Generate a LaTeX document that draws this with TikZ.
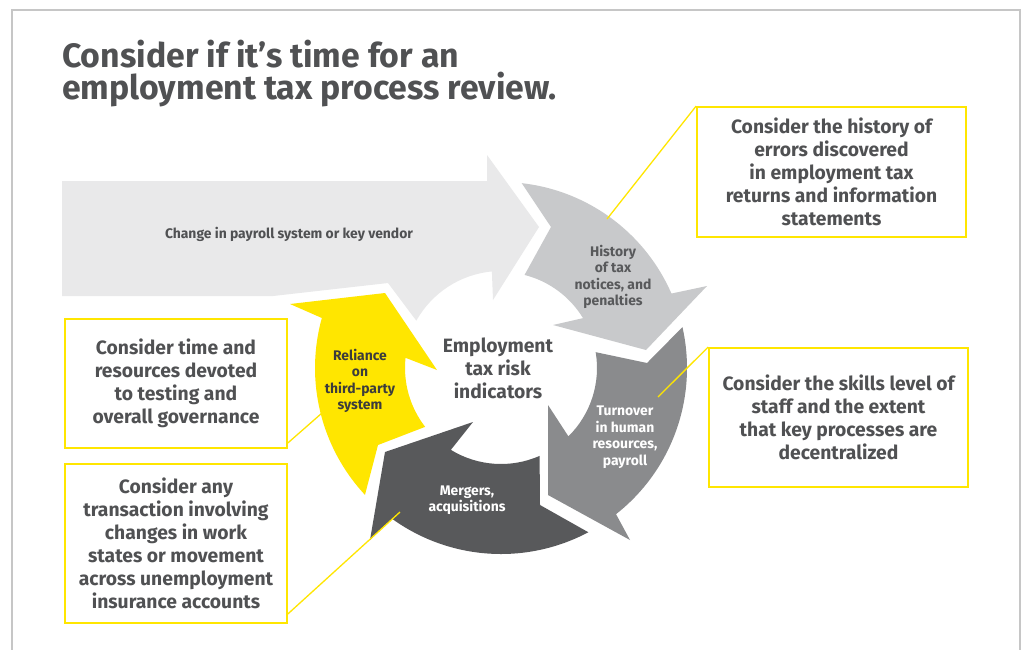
\documentclass[tikz,border=0pt]{standalone}
\usepackage{fontspec}
\setmainfont{Fira Sans}
\usetikzlibrary{calc}
\definecolor{ylw}{HTML}{FFE600}
\definecolor{bigarr}{HTML}{E9E9EA}
\definecolor{lgray}{HTML}{C8C9CB}
\definecolor{mgray}{HTML}{8A8B8D}
\definecolor{dgray}{HTML}{58595B}
\definecolor{txt}{HTML}{505153}
\definecolor{framec}{HTML}{C6C6C6}
\definecolor{reltxt}{HTML}{3C3C3C}
\tikzset{
  callout/.style={draw=ylw, line width=1.8pt, fill=white, align=center, text=txt,
    font=\fontsize{19.3}{23}\selectfont\bfseries, inner sep=0pt},
  leader/.style={draw=ylw, line width=1.3pt},
  lbl/.style={align=center, inner sep=0pt, font=\fontsize{13.9}{16.5}\selectfont\bfseries},
  titletxt/.style={inner sep=0pt, text=txt, font=\fontsize{33.8}{31}\selectfont\bfseries},
}
\begin{document}
\begin{tikzpicture}[x=1pt,y=-1pt]
\useasboundingbox (0,0) rectangle (1024,649);
\fill[white] (0,0) rectangle (1024,649);
\draw[framec, line width=2pt] (12,660) -- (12,10) -- (1020,10) -- (1020,660);

% title
\node[titletxt, anchor=base west] (t1) at (62,67) {Consider if it’s time for an};
\node[titletxt, anchor=base west] (t2) at (62,99) {employment tax process review.};

\coordinate (C) at (501,368);

% big arrow
\fill[bigarr] (62,181) -- (487,181) -- (487,155) -- (539,227) -- (493,300)
  -- ($(C)+(-95.4:97)$) arc[start angle=-95.4, end angle=-150.8, radius=97]
  -- (388,283) -- (273,296) -- (62,296) -- cycle;

% light gray: history
\fill[lgray] ($(C)+(-83.6:186)$) arc[start angle=-83.6, end angle=-23.6, radius=186]
  -- (707,286) -- (646,350) -- (553,325)
  -- ($(C)+(-31.3:96)$) arc[start angle=-31.3, end angle=-75.8, radius=96]
  -- (551,227) -- cycle;

% medium gray: turnover
\fill[mgray] ($(C)+(-12.7:186)$) arc[start angle=-12.7, end angle=51.8, radius=186]
  -- (630,540) -- (548,495) -- (548,405)
  -- ($(C)+(45.4:96)$) arc[start angle=45.4, end angle=-9.5, radius=96]
  -- (647,363) -- cycle;

% dark gray: mergers
\fill[dgray] ($(C)+(62:186)$) arc[start angle=62, end angle=125.9, radius=186]
  -- (370,540) -- (385,452) -- (473,422)
  -- ($(C)+(121.5:96)$) arc[start angle=121.5, end angle=66.3, radius=96]
  -- (540,505) -- cycle;

% yellow: reliance
\fill[ylw] ($(C)+(137:186)$) arc[start angle=137, end angle=195.6, radius=186]
  -- (290,304) -- (385,293) -- (437,370)
  -- ($(C)+(186.1:96)$) arc[start angle=186.1, end angle=142.2, radius=96]
  -- (378,445) -- cycle;

% labels in arrows
\node[lbl, text=txt] (chg) at (289,234) {Change in payroll system or key vendor};
\node[lbl, text=dgray] (hist) at (613,277) {History\\of tax\\notices, and\\penalties};
\node[lbl, text=white] (turn) at (625,437) {Turnover\\in human\\resources,\\payroll};
\node[lbl, text=white] (merg) at (467,500) {Mergers,\\acquisitions};
\node[lbl, text=reltxt] (reli) at (360,381) {Reliance\\on\\third-party\\system};
\node[align=center, inner sep=0pt, text=txt, font=\fontsize{19.3}{23}\selectfont\bfseries] (ctr) at (498,368) {Employment\\tax risk\\indicators};

% callout boxes
\node[callout, minimum width=269pt, minimum height=130pt] (box1) at (831.5,172) {Consider the history of\\errors discovered\\in employment tax\\returns and information\\statements};
\node[callout, minimum width=259pt, minimum height=139pt] (box2) at (838.5,417.5) {Consider the skills level of\\staff and the extent\\that key processes are\\decentralized};
\node[callout, minimum width=222pt, minimum height=129pt] (box3) at (176,383.5) {Consider time and\\resources devoted\\to testing and\\overall governance};
\node[callout, minimum width=222pt, minimum height=159pt] (box4) at (176,543.5) {Consider any\\transaction involving\\changes in work\\states or movement\\across unemployment\\insurance accounts};

% leaders
\coordinate (e1) at (607,219);
\coordinate (e2) at (658,397);
\coordinate (e3) at (330,406);
\coordinate (e4) at (400,512);
\draw[leader] (box1.north west) -- (e1);
\draw[leader] (box2.north west) -- (e2);
\draw[leader] ([yshift=6pt]box3.south east) -- (e3);
\draw[leader] ([yshift=10pt]box4.south east) -- (e4);
\end{tikzpicture}
\end{document}
